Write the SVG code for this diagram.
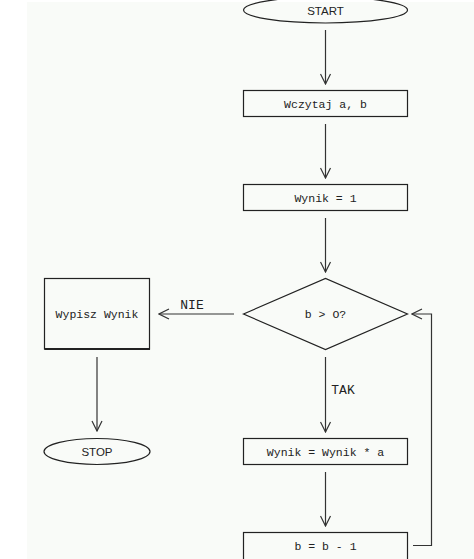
<svg xmlns="http://www.w3.org/2000/svg" width="474" height="559" viewBox="0 0 474 559">
<style>
.shape{fill:none;stroke:#222;stroke-width:1.2}
.line{fill:none;stroke:#333;stroke-width:1.2}
.mono{font-family:"Liberation Mono","DejaVu Sans Mono",monospace;font-size:11.5px;fill:#222;text-anchor:middle}
.sans{font-family:"Liberation Sans","DejaVu Sans",sans-serif;font-size:11.5px;fill:#222;text-anchor:middle}
.lbl{font-family:"Liberation Mono","DejaVu Sans Mono",monospace;font-size:13px;fill:#222;text-anchor:middle}
</style>
<defs>
<marker id="arr" viewBox="0 0 12 12" refX="11" refY="6" markerWidth="12" markerHeight="12" markerUnits="userSpaceOnUse" orient="auto">
<path d="M1,1 L11,6 L1,11" fill="none" stroke="#333" stroke-width="1.2"/>
</marker>
</defs>
<rect x="0" y="0" width="474" height="559" fill="#ffffff"/>
<rect x="27" y="2" width="447" height="557" fill="#f9fbf8"/>
<g id="start">
<ellipse class="shape" cx="325.5" cy="10" rx="82" ry="13"/>
<text class="sans" x="325.5" y="15">START</text>
</g>
<g id="read">
<rect class="shape" x="243.5" y="90.5" width="164" height="26"/>
<text class="mono" x="325.5" y="107.5">Wczytaj a, b</text>
</g>
<g id="init">
<rect class="shape" x="243.5" y="184.5" width="164" height="26"/>
<text class="mono" x="325.5" y="201.5">Wynik = 1</text>
</g>
<g id="decision">
<polygon class="shape" points="243.5,314 325.5,278.5 407.5,314 325.5,349.5"/>
<text class="mono" x="325.5" y="318">b &gt; O?</text>
</g>
<g id="print">
<rect class="shape" x="44.5" y="278.5" width="105" height="70.5"/>
<line x1="44.5" y1="349" x2="150" y2="349" stroke="#222" stroke-width="2"/>
<text class="mono" x="97" y="318">Wypisz Wynik</text>
</g>
<g id="stop">
<ellipse class="shape" cx="97" cy="451.5" rx="53" ry="13"/>
<text class="sans" x="97" y="456">STOP</text>
</g>
<g id="multiply">
<rect class="shape" x="243.5" y="438.5" width="164" height="26"/>
<text class="mono" x="325.5" y="455.5">Wynik = Wynik * a</text>
</g>
<g id="decrement">
<rect class="shape" x="243.5" y="532.5" width="164" height="28"/>
<text class="mono" x="325.5" y="550">b = b - 1</text>
</g>
<g id="connectors">
<line class="line" x1="325.5" y1="30" x2="325.5" y2="84" marker-end="url(#arr)"/>
<line class="line" x1="325.5" y1="124" x2="325.5" y2="178" marker-end="url(#arr)"/>
<line class="line" x1="325.5" y1="218" x2="325.5" y2="272" marker-end="url(#arr)"/>
<line class="line" x1="325.5" y1="357" x2="325.5" y2="432" marker-end="url(#arr)"/>
<line class="line" x1="325.5" y1="472" x2="325.5" y2="526" marker-end="url(#arr)"/>
<line class="line" x1="234" y1="314" x2="159" y2="314" marker-end="url(#arr)"/>
<line class="line" x1="97" y1="357" x2="97" y2="431" marker-end="url(#arr)"/>
<polyline class="line" points="413,545.5 431.5,545.5 431.5,314 412,314" marker-end="url(#arr)"/>
<text class="lbl" x="192" y="309">NIE</text>
<text class="lbl" x="343" y="394">TAK</text>
</g>
</svg>
